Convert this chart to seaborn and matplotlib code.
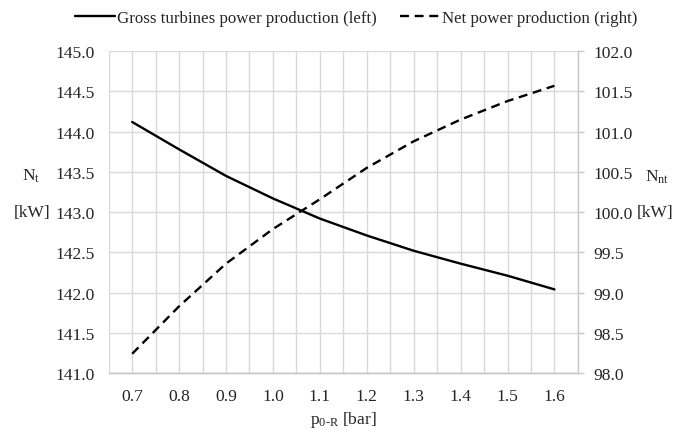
import matplotlib
matplotlib.use("Agg")
import matplotlib.pyplot as plt
import seaborn as sns
import numpy as np
import pandas as pd
from matplotlib.ticker import FixedLocator

# ---- data ----
pressure = [0.7, 0.8, 0.9, 1.0, 1.1, 1.2, 1.3, 1.4, 1.5, 1.6]
gross_power = [144.12, 143.78, 143.45, 143.17, 142.92, 142.71, 142.52, 142.36, 142.21, 142.04]
net_power = [98.24, 98.83, 99.36, 99.79, 100.16, 100.55, 100.88, 101.15, 101.38, 101.57]
x_ticks = [0.7, 0.8, 0.9, 1.0, 1.1, 1.2, 1.3, 1.4, 1.5, 1.6]
left_ticks = [141.0, 141.5, 142.0, 142.5, 143.0, 143.5, 144.0, 144.5, 145.0]
right_ticks = [98.0, 98.5, 99.0, 99.5, 100.0, 100.5, 101.0, 101.5, 102.0]
label_gross = "Gross turbines power production (left)"
label_net = "Net power production (right)"

df = pd.DataFrame({"p": pressure, "gross": gross_power, "net": net_power})

sns.set_theme(style="white")
plt.rcParams["font.family"] = ["Liberation Serif", "DejaVu Serif"]
plt.rcParams["mathtext.fontset"] = "custom"
plt.rcParams["mathtext.rm"] = "Liberation Serif"
plt.rcParams["mathtext.it"] = "Liberation Serif:italic"

grid_c = "#d9d9d9"
spine_c = "#c8c8c8"
fs = 12.6
lfs = 12.2

fig = plt.figure(figsize=(6.88, 4.31), dpi=100)
ax = fig.add_axes([0.158, 0.132, 0.682, 0.747])
ax2 = ax.twinx()

sns.lineplot(data=df, x="p", y="gross", ax=ax, color="black", linewidth=1.7,
             label=label_gross, legend=False)
sns.lineplot(data=df, x="p", y="net", ax=ax2, color="black", linewidth=1.7,
             label=label_net, legend=False)
ax2.lines[0].set_dashes((3.8, 2.4))

ax.set_xlim(0.65, 1.65)
ax.set_ylim(141.0, 145.0)
ax2.set_ylim(98.0, 102.0)

ax.xaxis.set_major_locator(FixedLocator(x_ticks))
ax.set_xticklabels([f"{v:.1f}" for v in x_ticks])
ax.xaxis.set_minor_locator(FixedLocator([0.65 + 0.1 * i for i in range(11)]))
ax.set_yticks(left_ticks)
ax.set_yticklabels([f"{v:.1f}" for v in left_ticks])
ax2.set_yticks(right_ticks)
ax2.set_yticklabels([f"{v:.1f}" for v in right_ticks])

ax.grid(True, which="both", axis="x", color=grid_c, linewidth=1.0)
ax.grid(True, which="major", axis="y", color=grid_c, linewidth=1.0)
ax2.grid(False)
ax.set_axisbelow(True)

ax.tick_params(axis="x", which="both", length=0, pad=11, labelsize=fs)
ax.tick_params(axis="y", length=0, pad=10, labelsize=fs)
ax2.tick_params(axis="y", length=4, width=1, color=spine_c, pad=7, labelsize=fs, direction="out")

for a in (ax, ax2):
    for s in a.spines.values():
        s.set_color(spine_c)
        s.set_linewidth(1.0)
ax.spines["top"].set_visible(False)
ax2.spines["top"].set_visible(False)
ax.spines["left"].set_visible(False)
ax2.spines["left"].set_visible(False)
ax.spines["right"].set_visible(False)

ax.set_xlabel(r"$\mathregular{p_{0\text{-}R}}$ [bar]", fontsize=fs, labelpad=3)
ax.set_ylabel("")
ax2.set_ylabel("")

fig.text(0.045, 1 - 176 / 431, r"$\mathregular{N_t}$", fontsize=fs, ha="center", va="center")
fig.text(0.047, 1 - 213 / 431, "[kW]", fontsize=fs, ha="center", va="center")
fig.text(0.955, 1 - 177 / 431, r"$\mathregular{N_{nt}}$", fontsize=fs, ha="center", va="center")
fig.text(0.952, 1 - 213 / 431, "[kW]", fontsize=fs, ha="center", va="center")

h1, l1 = ax.get_legend_handles_labels()
h2, l2 = ax2.get_legend_handles_labels()
fig.legend(h1 + h2, l1 + l2, loc="center left", bbox_to_anchor=(75 / 688, 1 - 19 / 431), ncol=2,
           frameon=False, fontsize=lfs, handlelength=2.35, handletextpad=0.15,
           columnspacing=1.35, borderpad=0, borderaxespad=0)

fig.savefig("out.png", dpi=100)
